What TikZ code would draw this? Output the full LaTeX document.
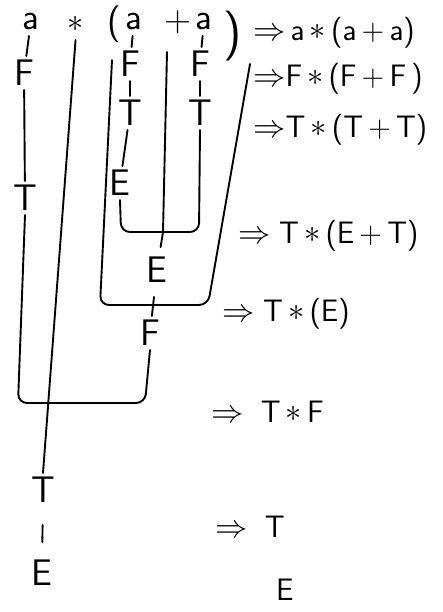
\documentclass[tikz,border=0pt]{standalone}
\usepackage{fontspec}
\newcommand{\bigast}{\raisebox{0.1ex}{\scalebox{1.3}{$\ast$}}}
\newcommand{\arr}{\scalebox{1.3}{$\Rightarrow$}}
\begin{document}
\begin{tikzpicture}[x=1pt,y=-1pt,
  sym/.style={font=\fontsize{37}{40}\selectfont\sffamily, inner sep=4pt},
  leaf/.style={sym, inner sep=0.5pt},
  der/.style={font=\fontsize{31}{34}\selectfont\sffamily, anchor=west, inner sep=0pt},
  edge/.style={line width=1.9pt, line cap=round, rounded corners=9pt}]
\useasboundingbox (0,0) rectangle (443,612);
% leaves
\node[leaf] (a1) at (31,21) {a};
\node[leaf] (star) at (76,25) {\bigast};
\node[leaf] (lp) at (114,24) {(};
\node[leaf] (a2) at (134,21) {a};
\node[leaf] (plus) at (178,22) {+};
\node[leaf] (a3) at (204,21) {a};
\node[leaf,font=\fontsize{50}{54}\selectfont\sffamily] (rp) at (233,36) {)};
% inner nodes
\node[sym] (F1) at (24,73) {F};
\node[sym] (F2) at (130,64) {F};
\node[sym] (F3) at (200,64) {F};
\node[sym] (T2) at (130,113) {T};
\node[sym] (T3) at (200,113) {T};
\node[sym] (E2) at (120,183) {E};
\node[sym] (T1) at (25,198) {T};
\node[sym] (E1) at (157,270) {E};
\node[sym] (F4) at (150,333) {F};
\node[sym] (T4) at (43,490) {T};
\node[sym] (E4) at (42,573) {E};
% junctions
\coordinate (J1) at (163,232);
\coordinate (J2) at (152,305);
\coordinate (J3) at (48,403);
\coordinate (lpe) at (112,60);
\coordinate (rpe) at (250,64);
\coordinate (pl) at (167,52);
% edges
\draw[edge, shorten <=6pt] (a1) -- (F1);
\draw[edge] (F1) -- (T1);
\draw[edge, shorten <=6pt] (a2) -- (F2);
\draw[edge] (F2) -- (T2);
\draw[edge] (T2) -- (E2);
\draw[edge, shorten <=6pt] (a3) -- (F3);
\draw[edge] (F3) -- (T3);
\draw[edge] (E2.south) -- (121,232) -- (J1) -- (199,232) -- (T3.south);
\draw[edge] (pl) -- (J1);
\draw[edge, shorten >=6pt] (J1) -- (E1);
\draw[edge] (lpe) -- (100,305) -- (J2) -- (208,305) -- (rpe);
\draw[edge, shorten <=10pt] (E1) -- (F4);
\draw[edge] (T1.south) -- (18,403) -- (J3) -- (145,403) -- (F4.south);
\draw[edge, shorten <=6pt] (star.south) -- (T4.north);
\draw[edge, shorten <=18pt, shorten >=14pt] (T4) -- (E4);
% derivation
\node[der] (d1) at (253,33) {\arr\,a\,\bigast\,(a\,+\,a)};
\node[der] (d2) at (253,79) {\arr F\,\bigast\,(F\,+\,F\,)};
\node[der] (d3) at (253,130) {\arr T\,\bigast\,(T\,+\,T)};
\node[der] (d4) at (238,236) {\arr\;T\,\bigast\,(E\,+\,T)};
\node[der] (d5) at (222,314) {\arr\;T\,\bigast\,(E)};
\node[der] (d6) at (211,412) {\arr\;\;T\,\bigast\,F};
\node[der] (d7) at (215,527) {\arr\;\;T};
\node[der] (d8) at (276,590) {E};
\end{tikzpicture}
\end{document}
